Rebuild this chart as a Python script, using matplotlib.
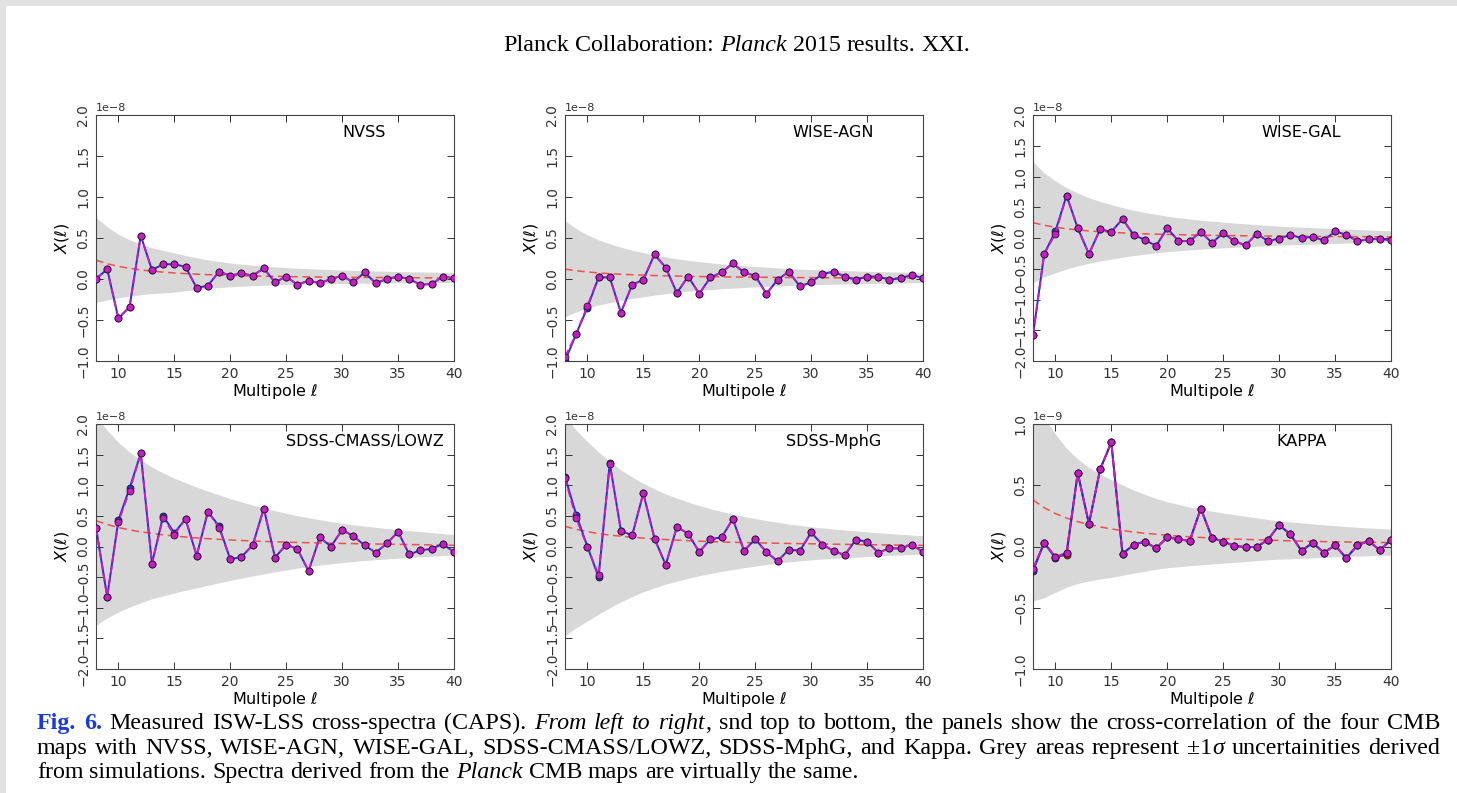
import matplotlib
matplotlib.use("Agg")
import matplotlib.pyplot as plt
import numpy as np
from matplotlib.patches import Rectangle

# Multipoles of the binned cross-spectra
ell = list(range(8, 41))

# ---- NVSS -------------------------------------------------------------
nvss_x = [0.00, 0.12, -0.48, -0.34, 0.53, 0.11, 0.18, 0.18, 0.15, -0.11, -0.08,
          0.09, 0.04, 0.07, 0.04, 0.13, -0.04, 0.03, -0.07, -0.02, -0.05, 0.00,
          0.04, -0.04, 0.08, -0.05, 0.00, 0.03, 0.00, -0.07, -0.06, 0.03, 0.01]
nvss_theory = [0.230, 0.186, 0.154, 0.130, 0.111, 0.096, 0.084, 0.074, 0.066, 0.059,
               0.053, 0.049, 0.044, 0.040, 0.037, 0.034, 0.032, 0.030, 0.027, 0.026,
               0.024, 0.023, 0.021, 0.020, 0.019, 0.018, 0.017, 0.016, 0.015, 0.015,
               0.014, 0.013, 0.013]
nvss_sigma = [0.52, 0.45, 0.39, 0.345, 0.31, 0.28, 0.26, 0.24, 0.215, 0.195, 0.175,
              0.16, 0.145, 0.135, 0.125, 0.117, 0.11, 0.103, 0.098, 0.094, 0.09,
              0.086, 0.082, 0.079, 0.076, 0.074, 0.072, 0.069, 0.067, 0.065, 0.063,
              0.062, 0.06]
nvss_blue = {}

# ---- WISE-AGN ---------------------------------------------------------
wiseagn_x = [-0.95, -0.67, -0.33, 0.02, 0.02, -0.41, -0.07, -0.01, 0.30, 0.14, -0.17,
             0.03, -0.18, 0.02, 0.08, 0.19, 0.08, 0.04, -0.18, -0.01, 0.09, -0.09,
             -0.04, 0.06, 0.09, 0.03, -0.01, 0.03, 0.03, -0.01, 0.01, 0.05, 0.01]
wiseagn_theory = [0.120, 0.101, 0.086, 0.074, 0.065, 0.058, 0.052, 0.047, 0.042, 0.039,
                  0.036, 0.033, 0.030, 0.028, 0.026, 0.025, 0.023, 0.022, 0.021, 0.019,
                  0.018, 0.017, 0.017, 0.016, 0.015, 0.014, 0.014, 0.013, 0.013, 0.012,
                  0.012, 0.011, 0.011]
wiseagn_sigma = [0.59, 0.51, 0.45, 0.40, 0.36, 0.325, 0.295, 0.27, 0.245, 0.225, 0.205,
                 0.19, 0.175, 0.163, 0.152, 0.142, 0.133, 0.125, 0.117, 0.11, 0.104,
                 0.098, 0.093, 0.089, 0.085, 0.081, 0.078, 0.075, 0.072, 0.069, 0.066,
                 0.063, 0.06]
wiseagn_blue = {8: -1.0, 10: -0.35}

# ---- WISE-GAL ---------------------------------------------------------
wisegal_x = [-1.58, -0.26, 0.07, 0.69, 0.16, -0.26, 0.14, 0.10, 0.31, 0.05, -0.03,
             -0.13, 0.16, -0.05, -0.05, 0.10, -0.08, 0.08, -0.05, -0.12, 0.07, -0.05,
             -0.01, 0.05, 0.00, 0.02, -0.04, 0.11, 0.05, -0.05, -0.02, -0.01, -0.04]
wisegal_theory = [0.250, 0.207, 0.175, 0.150, 0.131, 0.115, 0.102, 0.092, 0.083, 0.075,
                  0.068, 0.063, 0.058, 0.054, 0.050, 0.046, 0.043, 0.041, 0.038, 0.036,
                  0.034, 0.032, 0.030, 0.029, 0.027, 0.026, 0.025, 0.024, 0.023, 0.022,
                  0.021, 0.020, 0.019]
wisegal_sigma = [0.99, 0.85, 0.75, 0.665, 0.595, 0.535, 0.485, 0.445, 0.405, 0.37, 0.34,
                 0.315, 0.29, 0.27, 0.252, 0.236, 0.222, 0.21, 0.198, 0.187, 0.176,
                 0.165, 0.155, 0.148, 0.141, 0.134, 0.127, 0.12, 0.114, 0.108, 0.102,
                 0.096, 0.09]
wisegal_blue = {10: 0.11}

# ---- SDSS-CMASS/LOWZ --------------------------------------------------
cmass_x = [0.31, -0.82, 0.40, 0.91, 1.52, -0.28, 0.47, 0.19, 0.45, -0.15, 0.57,
           0.31, -0.21, -0.17, 0.02, 0.62, -0.18, 0.03, -0.04, -0.40, 0.15, 0.00,
           0.27, 0.17, 0.02, -0.10, 0.05, 0.24, -0.13, -0.06, -0.04, 0.04, -0.09]
cmass_theory = [0.42, 0.36, 0.31, 0.27, 0.24, 0.215, 0.19, 0.17, 0.155, 0.14, 0.128,
                0.117, 0.107, 0.098, 0.09, 0.083, 0.077, 0.071, 0.066, 0.062, 0.058,
                0.054, 0.05, 0.047, 0.044, 0.041, 0.038, 0.035, 0.032, 0.029, 0.026,
                0.023, 0.02]
cmass_sigma = [1.72, 1.54, 1.39, 1.27, 1.17, 1.08, 1.005, 0.94, 0.88, 0.825, 0.77,
               0.72, 0.67, 0.625, 0.58, 0.54, 0.50, 0.465, 0.43, 0.40, 0.372,
               0.346, 0.322, 0.30, 0.282, 0.265, 0.249, 0.234, 0.22, 0.206, 0.193,
               0.179, 0.165]
cmass_blue = {10: 0.43, 11: 0.95, 14: 0.50, 15: 0.22, 19: 0.33}

# ---- SDSS-MphG --------------------------------------------------------
mphg_x = [1.12, 0.46, 0.00, -0.47, 1.34, 0.26, 0.18, 0.87, 0.13, -0.30, 0.32,
          0.21, -0.09, 0.12, 0.15, 0.45, -0.07, 0.12, -0.09, -0.24, -0.05, -0.07,
          0.23, 0.03, -0.07, -0.14, 0.11, 0.08, -0.10, -0.03, -0.03, 0.03, -0.09]
mphg_theory = [0.33, 0.28, 0.242, 0.211, 0.187, 0.167, 0.151, 0.137, 0.125, 0.114,
               0.104, 0.095, 0.087, 0.08, 0.074, 0.069, 0.064, 0.06, 0.057, 0.054,
               0.05, 0.047, 0.044, 0.041, 0.038, 0.035, 0.032, 0.03, 0.027, 0.025,
               0.022, 0.02, 0.018]
mphg_sigma = [1.80, 1.62, 1.47, 1.33, 1.20, 1.08, 0.98, 0.89, 0.81, 0.74, 0.68,
              0.625, 0.575, 0.53, 0.49, 0.455, 0.42, 0.39, 0.36, 0.335, 0.31,
              0.29, 0.27, 0.255, 0.24, 0.227, 0.214, 0.202, 0.19, 0.179, 0.169,
              0.159, 0.15]
mphg_blue = {8: 1.14, 9: 0.52, 11: -0.50, 12: 1.36}

# ---- KAPPA (CMB lensing) ---------------------------------------------
kappa_x = [-0.185, 0.03, -0.085, -0.05, 0.60, 0.185, 0.63, 0.85, -0.06, 0.015, 0.04,
           -0.015, 0.075, 0.06, 0.045, 0.31, 0.07, 0.04, 0.005, -0.005, -0.003, 0.055,
           0.175, 0.10, -0.035, 0.03, -0.05, 0.01, -0.095, 0.01, 0.045, -0.03, 0.055]
kappa_theory = [0.38, 0.317, 0.269, 0.232, 0.203, 0.179, 0.160, 0.143, 0.130, 0.118,
                0.108, 0.100, 0.092, 0.085, 0.079, 0.074, 0.069, 0.065, 0.061, 0.058,
                0.055, 0.052, 0.049, 0.046, 0.044, 0.042, 0.040, 0.039, 0.037, 0.035,
                0.034, 0.033, 0.032]
kappa_sigma = [0.83, 0.74, 0.65, 0.57, 0.51, 0.465, 0.43, 0.40, 0.37, 0.34, 0.315,
               0.29, 0.27, 0.255, 0.24, 0.228, 0.216, 0.205, 0.195, 0.185, 0.175,
               0.165, 0.157, 0.151, 0.145, 0.139, 0.133, 0.127, 0.122, 0.118, 0.114,
               0.11, 0.106]
kappa_blue = {8: -0.20, 10: -0.095}
kappa_red = {11: -0.07}

panel_names = ["NVSS", "WISE-AGN", "WISE-GAL", "SDSS-CMASS/LOWZ", "SDSS-MphG", "KAPPA"]
panel_scale = [1e-8, 1e-8, 1e-8, 1e-8, 1e-8, 1e-9]
panel_ylim = [(-1.0, 2.0), (-1.0, 2.0), (-2.0, 2.0), (-2.0, 2.0), (-2.0, 2.0), (-1.0, 1.0)]
x_ticks = [10, 15, 20, 25, 30, 35, 40]

panels = [
    (nvss_x, nvss_theory, nvss_sigma, nvss_blue, {}),
    (wiseagn_x, wiseagn_theory, wiseagn_sigma, wiseagn_blue, {}),
    (wisegal_x, wisegal_theory, wisegal_sigma, wisegal_blue, {}),
    (cmass_x, cmass_theory, cmass_sigma, cmass_blue, {}),
    (mphg_x, mphg_theory, mphg_sigma, mphg_blue, {}),
    (kappa_x, kappa_theory, kappa_sigma, kappa_blue, kappa_red),
]

W, H = 1457, 793
fig = plt.figure(figsize=(W / 100, H / 100), dpi=100, facecolor="white")

# textured page margin (top and left strips)
fig.patches.append(Rectangle((0, 1 - 6 / H), 1, 6 / H, transform=fig.transFigure,
                             facecolor="#e2e2e2", edgecolor="none", zorder=0))
fig.patches.append(Rectangle((0, 0), 6 / W, 1, transform=fig.transFigure,
                             facecolor="#e2e2e2", edgecolor="none", zorder=0))

# axes boxes in pixels: (left, top, right, bottom)
col_left = [96, 565, 1033]
row_top = [115, 424]
row_bot = [361, 669]
ax_w = 358

ell_arr = np.array(ell)
for i, (vals, theory, sigma, blue, red) in enumerate(panels):
    r, c = divmod(i, 3)
    left = col_left[c] / W
    bottom = 1 - row_bot[r] / H
    height = (row_bot[r] - row_top[r]) / H
    ax = fig.add_axes([left, bottom, ax_w / W, height])
    s = panel_scale[i]
    th = np.array(theory) * s
    sg = np.array(sigma) * s
    ax.fill_between(ell_arr, th - sg, th + sg, facecolor="#d8d8d8", edgecolor="none", zorder=1)
    ax.plot(ell_arr, th, color="#f25050", lw=1.1, dashes=(5, 3), zorder=2)

    main = np.array(vals) * s
    if red:
        red_vals = np.array([red.get(l, v) for l, v in zip(ell, vals)]) * s
        ax.plot(ell_arr, red_vals, color="#d02020", lw=1.4, marker="o", ms=5,
                mfc="#d02020", mec="#401010", mew=0.6, zorder=3)
    blue_vals = np.array([blue.get(l, v) for l, v in zip(ell, vals)]) * s
    ax.plot(ell_arr, blue_vals, color="#2b2bd0", lw=1.4, marker="o", ms=5,
            mfc="#2b2bd0", mec="#1a1a40", mew=0.6, zorder=3)
    ax.plot(ell_arr, main, color="#c020c0", lw=1.4, dashes=(4, 2), marker="o", ms=5,
            mfc="#c21fc2", mec="#301030", mew=0.6, zorder=4)

    ax.set_xlim(8, 40)
    lo, hi = panel_ylim[i]
    ax.set_ylim(lo * s, hi * s)
    ax.set_xticks(x_ticks)
    ax.set_yticks(np.arange(lo, hi + 0.01, 0.5) * s)
    ax.tick_params(direction="in", top=True, right=True, length=5, width=0.7,
                   labelsize=10, colors="#333333", pad=4)
    for lab in ax.get_yticklabels():
        lab.set_rotation(90)
        lab.set_va("center")
    ax.yaxis.get_offset_text().set_fontsize(8)
    ax.yaxis.get_offset_text().set_color("#333333")
    for sp in ax.spines.values():
        sp.set_linewidth(0.8)
        sp.set_color("#444444")
    ax.set_xlabel(r"Multipole $\ell$", fontsize=11.5, labelpad=1)
    ax.set_ylabel(r"$X(\ell)$", fontsize=11.5, labelpad=4)
    ax.text(0.75, 0.928, panel_names[i], transform=ax.transAxes, ha="center",
            va="center", fontsize=11.5)

# ---------------- header and caption text -------------------------------
renderer = fig.canvas.get_renderer()
SERIF = "Liberation Serif"


def seg_kw(style, size):
    kw = dict(family=SERIF, fontsize=size, color="black")
    if style == "i":
        kw["style"] = "italic"
    elif style == "b":
        kw.update(weight="bold", color="#1c3ad8")
    return kw


def text_width(txt, style, size):
    t = fig.text(0, 0, txt, **seg_kw(style, size))
    w = t.get_window_extent(renderer).width
    t.remove()
    return w


def draw_words(words, x0, y_base, size, x1=None):
    """Lay out words (lists of styled segments); justify to x1 when given."""
    widths = [sum(text_width(t, st, size) for t, st in w) for w in words]
    space = text_width("a a", "n", size) - text_width("aa", "n", size)
    if x1 is not None and len(words) > 1:
        space = (x1 - x0 - sum(widths)) / (len(words) - 1)
    x = x0
    for w, wd in zip(words, widths):
        xs = x
        for t, st in w:
            fig.text(xs / W, 1 - y_base / H, t, ha="left", va="baseline", **seg_kw(st, size))
            xs += text_width(t, st, size)
        x += wd + space
    return x


def plain(text, style="n"):
    return [[(w, style)] for w in text.split()]


# running header
head_size = 17.3
head = [[("Planck", "n")], [("Collaboration:", "n")], [("Planck", "i")],
        [("2015", "n")], [("results.", "n")], [("XXI.", "n")]]
hw = sum(text_width(t, st, head_size) for w in head for t, st in w)
sp = text_width("a a", "n", head_size) - text_width("aa", "n", head_size)
hw += sp * (len(head) - 1)
draw_words(head, 737 - hw / 2, 51, head_size)

cap_size = 17.3
line1 = (plain("Fig. 6.", "b") + plain("Measured ISW-LSS cross-spectra (CAPS).")
         + plain("From left to", "i") + [[("right", "i"), (",", "n")]]
         + plain("snd top to bottom, the panels show the cross-correlation of the four CMB"))
line2 = (plain("maps with NVSS, WISE-AGN, WISE-GAL, SDSS-CMASS/LOWZ, SDSS-MphG, and Kappa. "
               "Grey areas represent")
         + [[("\u00b11", "n"), ("\u03c3", "i")]]
         + plain("uncertainities derived"))
line3 = (plain("from simulations. Spectra derived from the") + plain("Planck", "i")
         + plain("CMB maps are virtually the same."))
draw_words(line1, 37, 729, cap_size, x1=1440)
draw_words(line2, 37, 754, cap_size, x1=1440)
draw_words(line3, 37, 778, cap_size)

fig.savefig("out.png", dpi=100, facecolor="white")
